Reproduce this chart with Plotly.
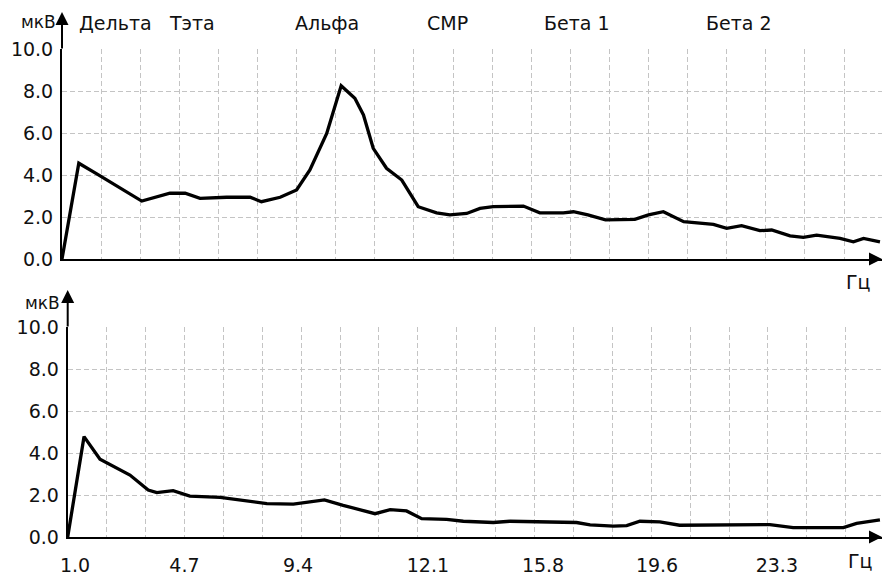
import plotly.graph_objects as go

# ---- data (x in grid steps, y in µV) ----
top_x = [0, 0.43, 0.89, 2.04, 2.76, 3.15, 3.53, 4.21, 4.81, 5.1, 5.58, 6.0, 6.34, 6.77,
         7.14, 7.49, 7.71, 7.96, 8.3, 8.69, 9.11, 9.58, 9.92, 10.35, 10.69, 11.03, 11.8,
         12.22, 12.82, 13.08, 13.45, 13.9, 14.65, 15.0, 15.38, 15.9, 16.66, 17.0, 17.38,
         17.85, 18.15, 18.62, 18.96, 19.3, 19.9, 20.24, 20.5, 20.92]
top_y = [0.0, 4.56, 4.05, 2.76, 3.13, 3.13, 2.89, 2.94, 2.94, 2.73, 2.94, 3.29, 4.24, 5.98,
         8.25, 7.65, 6.86, 5.27, 4.32, 3.76, 2.49, 2.2, 2.1, 2.17, 2.41, 2.49, 2.52,
         2.2, 2.2, 2.25, 2.1, 1.86, 1.89, 2.1, 2.25, 1.78, 1.65, 1.46, 1.59,
         1.35, 1.38, 1.1, 1.03, 1.14, 0.98, 0.82, 0.98, 0.82]

bot_x = [0, 0.42, 0.83, 1.17, 1.6, 2.07, 2.29, 2.71, 3.14, 3.92, 5.12, 5.8, 6.6, 7.08,
         7.9, 8.29, 8.71, 9.1, 9.74, 10.17, 10.94, 11.37, 13.08, 13.43, 14.03, 14.37,
         14.71, 15.22, 15.73, 18.05, 18.65, 19.94, 20.28, 20.88]
bot_y = [0.0, 4.78, 3.7, 3.35, 2.95, 2.24, 2.11, 2.21, 1.95, 1.89, 1.59, 1.57, 1.77, 1.51,
         1.11, 1.3, 1.24, 0.87, 0.84, 0.75, 0.69, 0.75, 0.69, 0.58, 0.52, 0.54,
         0.75, 0.72, 0.56, 0.59, 0.45, 0.45, 0.65, 0.81]

x_tick_pos = [0.19, 3.0, 5.92, 9.26, 12.22, 15.15, 18.23]
x_tick_text = ["1.0", "4.7", "9.4", "12.1", "15.8", "19.6", "23.3"]

band_names = ["Дельта", "Тэта", "Альфа", "СМР", "Бета 1", "Бета 2"]
band_pos = [1.36, 3.32, 6.78, 9.87, 13.17, 17.31]

FONT = "DejaVu Sans"
GRID = "#c4c4c4"
DASH = "5px,3px"

fig = go.Figure()
fig.add_trace(go.Scatter(x=top_x, y=top_y, mode="lines",
                         line=dict(color="black", width=3.3), xaxis="x", yaxis="y",
                         showlegend=False, hoverinfo="skip"))
fig.add_trace(go.Scatter(x=bot_x, y=bot_y, mode="lines",
                         line=dict(color="black", width=3.3), xaxis="x2", yaxis="y2",
                         showlegend=False, hoverinfo="skip"))

W, H = 883, 576
yax_common = dict(range=[0, 10], tickmode="linear", tick0=0, dtick=2, tickformat=".1f",
                  showgrid=True, gridcolor=GRID, griddash=DASH, gridwidth=1,
                  showline=True, linecolor="black", linewidth=2, zeroline=False,
                  ticks="", ticklabelstandoff=3, automargin=False,
                  tickfont=dict(family=FONT, size=19, color="#111"), fixedrange=True)

fig.update_layout(
    width=W, height=H, margin=dict(l=0, r=0, t=0, b=0, autoexpand=False),
    paper_bgcolor="white", plot_bgcolor="white",
    font=dict(family=FONT, size=19, color="#111"),
    xaxis=dict(domain=[62 / W, 882 / W], range=[0, (882 - 62) / 39.1], anchor="y",
               tickmode="linear", tick0=0, dtick=1, showticklabels=False, ticks="",
               showgrid=True, gridcolor=GRID, griddash=DASH, gridwidth=1, automargin=False,
               showline=True, linecolor="black", linewidth=2, zeroline=False),
    yaxis=dict(domain=[1 - 259 / H, 1 - 49 / H], anchor="x", **yax_common),
    xaxis2=dict(domain=[67.7 / W, 882 / W], range=[0, (882 - 67.7) / 38.9], anchor="y2",
                tickmode="array", tickvals=x_tick_pos, ticktext=x_tick_text,
                showgrid=False, ticks="", ticklabelstandoff=10, automargin=False,
                tickfont=dict(family=FONT, size=19, color="#111"),
                minor=dict(tickmode="linear", tick0=0, dtick=1, showgrid=True,
                           gridcolor=GRID, griddash=DASH, gridwidth=1, ticks=""),
                showline=True, linecolor="black", linewidth=2, zeroline=False),
    yaxis2=dict(domain=[1 - 537 / H, 1 - 327 / H], anchor="x2", **yax_common),
)

ann = []
# band labels
for name, pos in zip(band_names, band_pos):
    ann.append(dict(x=pos, y=1 - 23 / H, xref="x", yref="paper", text=name,
                    showarrow=False, font=dict(family=FONT, size=19, color="#111"),
                    xanchor="center", yanchor="middle"))
# axis unit labels
ann.append(dict(x=58 / W, y=1 - 22 / H, xref="paper", yref="paper", text="мкВ",
                showarrow=False, xanchor="right", yanchor="middle",
                font=dict(family=FONT, size=17, color="#111")))
ann.append(dict(x=62 / W, y=1 - 303 / H, xref="paper", yref="paper", text="мкВ",
                showarrow=False, xanchor="right", yanchor="middle",
                font=dict(family=FONT, size=17, color="#111")))
ann.append(dict(x=858 / W, y=1 - 282 / H, xref="paper", yref="paper", text="Гц",
                showarrow=False, xanchor="center", yanchor="middle",
                font=dict(family=FONT, size=19, color="#111")))
ann.append(dict(x=860 / W, y=1 - 561 / H, xref="paper", yref="paper", text="Гц",
                showarrow=False, xanchor="center", yanchor="middle",
                font=dict(family=FONT, size=19, color="#111")))
# y-axis arrows (extend axis line upward)
ann.append(dict(x=62 / W, y=1 - 12 / H, xref="paper", yref="paper", text="",
                showarrow=True, ax=0, ay=38, arrowhead=2, arrowsize=1.3,
                arrowwidth=2, arrowcolor="black", standoff=0))
ann.append(dict(x=67.7 / W, y=1 - 290 / H, xref="paper", yref="paper", text="",
                showarrow=True, ax=0, ay=38, arrowhead=2, arrowsize=1.3,
                arrowwidth=2, arrowcolor="black", standoff=0))
# x-axis arrows
ann.append(dict(x=882 / W, y=1 - 259 / H, xref="paper", yref="paper", text="",
                showarrow=True, ax=-10, ay=0, arrowhead=2, arrowsize=1.3,
                arrowwidth=2, arrowcolor="black", standoff=0))
ann.append(dict(x=882 / W, y=1 - 537 / H, xref="paper", yref="paper", text="",
                showarrow=True, ax=-10, ay=0, arrowhead=2, arrowsize=1.3,
                arrowwidth=2, arrowcolor="black", standoff=0))
fig.update_layout(annotations=ann)

fig.write_html("out.html", config={"displayModeBar": False, "staticPlot": True},
               post_script="document.body.style.margin='0';"
                           "document.body.style.overflow='hidden';")
